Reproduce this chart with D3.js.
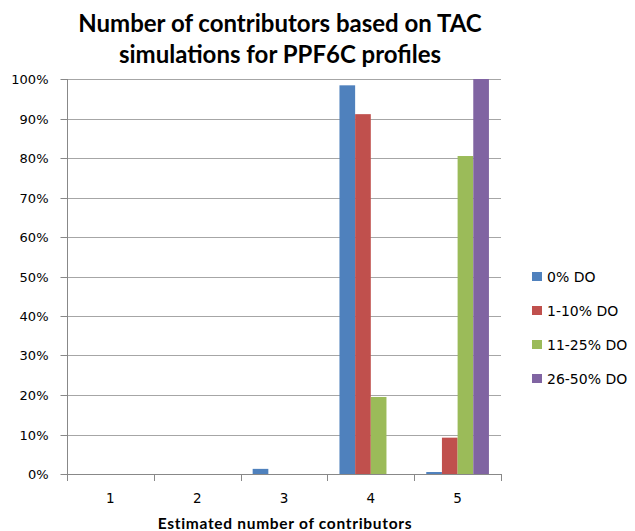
<!DOCTYPE html>
<html><head><meta charset="utf-8">
<script src="https://cdn.jsdelivr.net/npm/d3@7"></script>
<style>body{margin:0;background:#fff}svg{display:block}</style>
</head><body>
<svg id="c" width="635" height="531"></svg>
<script>
const categories = ["1","2","3","4","5"];
const seriesNames = ["0% DO","1-10% DO","11-25% DO","26-50% DO"];
const colors = ["#4F81BD","#C0504D","#9BBB59","#8064A2"];
const s0 = [0, 0, 1.3, 98.4, 0.5];
const s1 = [0, 0, 0, 91.1, 9.2];
const s2 = [0, 0, 0, 19.5, 80.5];
const s3 = [0, 0, 0, 0, 100];
const seriesValues = [s0, s1, s2, s3];
const yTicks = [0,10,20,30,40,50,60,70,80,90,100];
const titleLines = ["Number of contributors based on TAC","simulations for PPF6C profiles"];
const xTitle = "Estimated number of contributors";

const svg = d3.select("#c");
const L = 67, R = 501, T = 79, B = 474;
const x = d3.scaleBand().domain(categories).range([L, R]).paddingInner(0).paddingOuter(0);
const y = d3.scaleLinear().domain([0,100]).range([B, T]);
const inner = d3.scaleBand().domain(seriesNames).range([0, x.bandwidth()]).paddingOuter(0.77);

// gridlines
svg.append("g").selectAll("line").data(yTicks.filter(d=>d>0)).join("line")
  .attr("x1", L).attr("x2", R).attr("y1", d=>Math.round(y(d))+0.5).attr("y2", d=>Math.round(y(d))+0.5)
  .attr("stroke", "#a6a6a6").attr("stroke-width", 1);

// bars
seriesNames.forEach((s, i) => {
  svg.append("g").selectAll("rect").data(categories).join("rect")
    .attr("x", c => x(c) + inner(s))
    .attr("width", inner.bandwidth())
    .attr("y", (c, j) => y(seriesValues[i][j]))
    .attr("height", (c, j) => B - y(seriesValues[i][j]))
    .attr("fill", colors[i]);
});

// y axis
const ya = svg.append("g").attr("transform", `translate(${L+0.5},0)`)
  .call(d3.axisLeft(y).tickValues(yTicks).tickFormat(d => d + "%").tickSize(7).tickPadding(12));
ya.selectAll("path,line").attr("stroke", "#888");
ya.select(".domain").attr("d", `M0,${T}V${B+0.5}`);
ya.selectAll("text").attr("font-family", "DejaVu Sans, Verdana, sans-serif").attr("font-size", 13).attr("fill", "#000");
ya.selectAll(".tick").attr("transform", d => `translate(0,${Math.round(y(d))+0.5})`);

// x axis
const xa = svg.append("g").attr("transform", `translate(0,${B+0.5})`)
  .call(d3.axisBottom(x).tickSize(0).tickPadding(19));
xa.select(".domain").attr("d", `M${L},0H${R}`).attr("stroke", "#888");
xa.selectAll("text").attr("font-family", "DejaVu Sans, Verdana, sans-serif").attr("font-size", 13.5).attr("fill", "#000");
svg.append("g").selectAll("line").data(categories.concat(["end"])).join("line")
  .attr("x1", (d,i)=>Math.round(L + i*x.bandwidth())+0.5).attr("x2", (d,i)=>Math.round(L + i*x.bandwidth())+0.5)
  .attr("y1", B).attr("y2", B+7).attr("stroke", "#888");

// title
svg.append("g").selectAll("text").data(titleLines).join("text")
  .attr("x", 280).attr("y", (d,i)=> 32 + i*31)
  .attr("text-anchor", "middle").attr("font-family", "Lato, Open Sans, sans-serif")
  .attr("font-weight", "bold").attr("font-size", 24).attr("fill", "#000").text(d=>d);

// x title
svg.append("text").attr("x", 285).attr("y", 529).attr("text-anchor","middle")
  .attr("font-family", "Lato, Open Sans, sans-serif").attr("font-weight","bold")
  .attr("font-size", 15.5).attr("letter-spacing", 0.7).text(xTitle);

// legend
const lg = svg.append("g").selectAll("g").data(seriesNames).join("g")
  .attr("transform", (d,i)=>`translate(532,${272 + i*34})`);
lg.append("rect").attr("width", 10).attr("height", 9).attr("fill", (d,i)=>colors[i]);
lg.append("text").attr("x", 15).attr("y", 9.5).attr("font-family", "DejaVu Sans, Verdana, sans-serif")
  .attr("font-size", 14).attr("fill","#000").text(d=>d);
</script>
</body></html>
